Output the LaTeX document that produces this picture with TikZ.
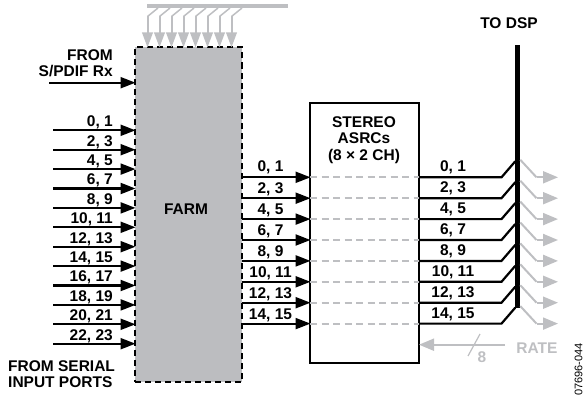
\documentclass[tikz,border=0pt]{standalone}
\usepackage{fontspec}
\setmainfont{Liberation Sans}
\definecolor{farmgray}{RGB}{188,189,192}
\definecolor{linegray}{RGB}{190,191,194}
\usetikzlibrary{arrows.meta,calc}
\tikzset{
    lbl/.style={font=\fontsize{15.5}{16}\selectfont\bfseries, inner sep=0pt, anchor=base},
    lblright/.style={lbl, anchor=base east},
    sig/.style={black, line width=2.2pt},
    sigarrow/.style={sig, -{Triangle[length=15pt,width=11pt]}, shorten >=-0.5pt},
    grayline/.style={linegray, line width=2pt},
    grayarrow/.style={grayline, -{Triangle[length=15pt,width=12pt]}}
}

\begin{document}
\begin{tikzpicture}[x=1pt,y=-1pt]
    \useasboundingbox (0,0) rectangle (584,396);

    % blocks
    \node[draw, dash pattern=on 6pt off 4pt, line width=2pt, fill=farmgray, minimum width=107pt, minimum height=334pt, inner sep=0pt, outer sep=0pt, anchor=north west] (farm) at (135,47.5) {};
    \node[draw, line width=2pt, minimum width=109pt, minimum height=260pt, inner sep=0pt, outer sep=0pt, anchor=north west] (asrc) at (310,103) {};
    \node[fill=black, minimum width=5pt, minimum height=263pt, inner sep=0pt, outer sep=0pt, anchor=north west] (bus) at (515.3,45) {};
    \node[fill=linegray, minimum width=141pt, minimum height=4pt, inner sep=0pt, outer sep=0pt, anchor=north west] (topbar) at (147,4) {};

    \node[lbl] (farmlabel) at (186,214) {FARM};
    \node[lbl] (asrclabel1) at (364,127.7) {STEREO};
    \node[lbl] (asrclabel2) at (364,143.7) {ASRCs};
    \node[lbl] (asrclabel3) at (364,160) {(8 × 2 CH)};
    \node[lbl] (dsplabel) at (509,29) {TO DSP};
    \node[lblright] (fromlabel1) at (113,60.7) {FROM};
    \node[lblright] (fromlabel2) at (113,76.7) {S/PDIF Rx};
    \node[lbl, anchor=base west] (seriallabel1) at (8,371.7) {FROM SERIAL};
    \node[lbl, anchor=base west] (seriallabel2) at (8,387.7) {INPUT PORTS};

    % top inputs
    \foreach \i in {0,...,7} {
        \pgfmathsetmacro{\xpos}{147.5+12*\i}
        \coordinate (topstart\i) at ($(topbar.south west)+(\xpos-147+10.5,0)$);
        \coordinate (topbend\i) at (\xpos,16.5);
        \draw[grayline, line width=1.5pt] (topstart\i) -- (topbend\i);
        \draw[grayarrow, -{Triangle[length=15pt,width=10.5pt]}] (topbend\i) -- (topbend\i |- farm.north);
    }

    % S/PDIF input
    \coordinate (spdif) at (49,82.7);
    \draw[sigarrow] (spdif) -- (spdif -| farm.west);

    % serial inputs
    \foreach \lab [count=\i from 0] in {{0, 1},{2, 3},{4, 5},{6, 7},{8, 9},{10, 11},{12, 13},{14, 15},{16, 17},{18, 19},{20, 21},{22, 23}} {
        \pgfmathsetmacro{\ypos}{130.3+19.4*\i}
        \coordinate (in\i) at (53,\ypos);
        \draw[sigarrow] (in\i) -- (in\i -| farm.west);
        \node[lblright] (inlabel\i) at (113,\ypos-3.6) {\lab};
    }

    % ASRC channels
    \foreach \lab [count=\i from 0] in {{0, 1},{2, 3},{4, 5},{6, 7},{8, 9},{10, 11},{12, 13},{14, 15}} {
        \pgfmathsetmacro{\ypos}{177.3+20.9*\i}
        \pgfmathsetmacro{\lift}{\i==0 ? 6.3 : 4.6}
        \coordinate (ch\i) at (asrc.west |- 0,\ypos);
        \coordinate (bend\i) at (501.5,\ypos);
        \coordinate (grayend\i) at (536.5,\ypos);
        \draw[sigarrow] (ch\i -| farm.east) -- (ch\i);
        \draw[linegray, line width=2pt, dash pattern=on 7pt off 4.5pt] (ch\i) -- (ch\i -| asrc.east);
        \draw[sig] (ch\i -| asrc.east) -- (bend\i) -- ($(bend\i -| bus.west)+(0,-16)$);
        \draw[grayline] ($(bus.east |- bend\i)+(0,-17.5)$) -- (grayend\i);
        \draw[grayarrow] (grayend\i) -- ++(21.5,0);
        \node[lbl] (chlabel\i) at (270.5,\ypos-\lift) {\lab};
        \node[lbl] (outlabel\i) at (453,\ypos-5.6) {\lab};
    }

    % rate input
    \coordinate (ratestart) at (505,344.7);
    \draw[grayarrow] (ratestart) -- (ratestart -| asrc.east);
    \coordinate (slashtop) at (480,334);
    \coordinate (slashbottom) at (468,356);
    \draw[grayline, line width=1.2pt] (slashtop) -- (slashbottom);
    \node[lbl, text=linegray] (ratewidth) at (482,362) {8};
    \node[lbl, text=linegray] (ratelabel) at (537,353.5) {RATE};

    \node[inner sep=0pt, rotate=90, font=\fontsize{11}{11}\selectfont] (partno) at (578.5,369.5) {07696-044};
\end{tikzpicture}
\end{document}
